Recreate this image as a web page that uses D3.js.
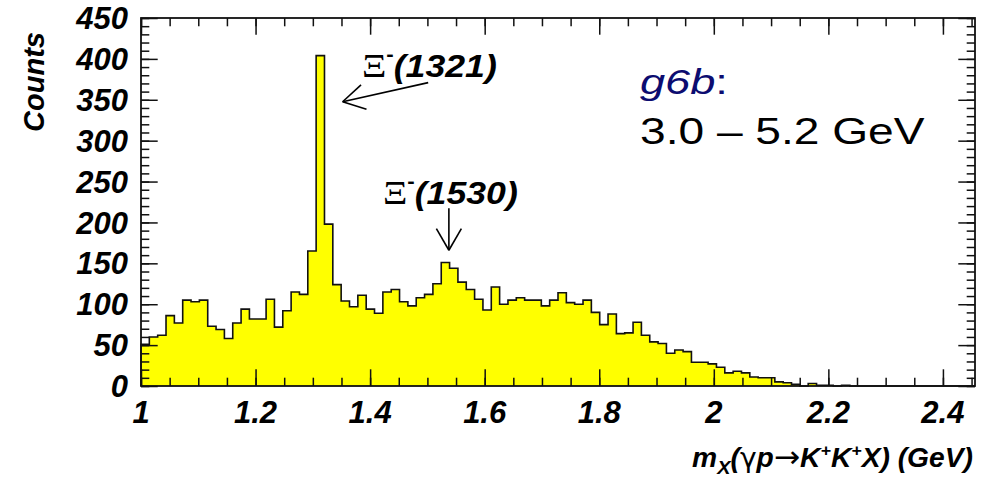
<!DOCTYPE html>
<html>
<head>
<meta charset="utf-8">
<script src="https://cdn.jsdelivr.net/npm/d3@7"></script>
<style>
  body { margin: 0; background: #fff; }
  svg { display: block; }
</style>
</head>
<body>
<svg id="chart" width="995" height="479"></svg>
<script>
// Missing-mass spectrum, 100 equal bins between binLow and binHigh (GeV)
const binLow = 1.0;
const binHigh = 2.456;
const counts = [
  51, 60, 62, 86, 77, 105, 103, 105, 73, 69,
  58, 77, 94, 82, 82, 106, 72, 92, 115, 112,
  165, 404, 198, 124, 104, 97, 111, 94, 89, 115,
  118, 103, 98, 108, 112, 125, 151, 144, 127, 118,
  106, 93, 121, 100, 105, 108, 105, 105, 98, 105,
  114, 102, 100, 105, 90, 75, 88, 64, 65, 78,
  62, 54, 52, 40, 44, 42, 29, 29, 27, 23,
  16, 18, 16, 11, 10, 10, 5, 4, 2, 0,
  3, 1, 1, 0, 1, 0, 0, 0, 0, 0,
  0, 0, 0, 0, 0, 0, 0, 0, 0, 0
];

const xTicks = [1, 1.2, 1.4, 1.6, 1.8, 2, 2.2, 2.4];
const xTickLabels = ["1", "1.2", "1.4", "1.6", "1.8", "2", "2.2", "2.4"];
const xMinorStep = 0.05;
const yTicks = [0, 50, 100, 150, 200, 250, 300, 350, 400, 450];
const yTickLabels = ["0", "50", "100", "150", "200", "250", "300", "350", "400", "450"];
const yMinorStep = 10;

// Resonance markers: label text, arrow tail / head in data units
const resonances = [
  { label: "1321", labelX: 1.3857, labelY: 378, tailX: 1.5014, tailY: 371, headX: 1.352, headY: 347.6 },
  { label: "1530", labelX: 1.4223, labelY: 223, tailX: 1.5375, tailY: 217.5, headX: 1.5375, headY: 166 }
];

const runName = "g6b";
const energyRange = "3.0 \u2013 5.2 GeV";

const W = 995, H = 479;
const frame = { left: 141, right: 975, top: 18, bottom: 386 };
const FONT = "'Liberation Sans', Arial, Helvetica, sans-serif";

const svg = d3.select("#chart");
svg.append("rect").attr("width", W).attr("height", H).attr("fill", "#fff");

const x = d3.scaleLinear().domain([binLow, binHigh]).range([frame.left, frame.right]);
const y = d3.scaleLinear().domain([0, 450]).range([frame.bottom, frame.top]);
const binWidth = (binHigh - binLow) / counts.length;

// Histogram as a filled step outline
const pts = [[x(binLow), y(0)]];
counts.forEach((c, i) => {
  const lo = binLow + i * binWidth, hi = lo + binWidth;
  pts.push([x(lo), y(c)], [x(hi), y(c)]);
});
pts.push([x(binHigh), y(0)]);
svg.append("path")
  .attr("d", d3.line()(pts))
  .attr("fill", "#ffff00")
  .attr("stroke", "#111")
  .attr("stroke-width", 1.6)
  .attr("stroke-linejoin", "miter");

// Tick generation helpers
const xMinor = d3.range(binLow, binHigh + 1e-9, xMinorStep).map(v => +v.toFixed(4)).filter(v => v <= binHigh);
const yMinor = d3.range(0, 450 + 1e-9, yMinorStep);
const MAJ = 16.7, MIN = 8.3;

function drawAxis(axisFn, scale, transform, values, size) {
  const g = svg.append("g").attr("transform", transform)
    .call(axisFn(scale).tickValues(values).tickSize(-size).tickFormat(""));
  g.select(".domain").remove();
  g.selectAll(".tick line").attr("stroke", "#111").attr("stroke-width", 1.5);
  return g;
}

// bottom / top
drawAxis(d3.axisBottom, x, `translate(0,${frame.bottom})`, xMinor, MIN);
drawAxis(d3.axisBottom, x, `translate(0,${frame.bottom})`, xTicks, MAJ);
drawAxis(d3.axisTop, x, `translate(0,${frame.top})`, xMinor, MIN);
drawAxis(d3.axisTop, x, `translate(0,${frame.top})`, xTicks, MAJ);
// left / right
drawAxis(d3.axisLeft, y, `translate(${frame.left},0)`, yMinor, MIN);
drawAxis(d3.axisLeft, y, `translate(${frame.left},0)`, yTicks, MAJ);
drawAxis(d3.axisRight, y, `translate(${frame.right},0)`, yMinor, MIN);
drawAxis(d3.axisRight, y, `translate(${frame.right},0)`, yTicks, MAJ);

// Frame
svg.append("rect")
  .attr("x", frame.left).attr("y", frame.top)
  .attr("width", frame.right - frame.left).attr("height", frame.bottom - frame.top)
  .attr("fill", "none").attr("stroke", "#111").attr("stroke-width", 1.8);

// Tick labels
svg.append("g").selectAll("text").data(xTicks).join("text")
  .attr("x", d => x(d)).attr("y", 423)
  .attr("text-anchor", "middle")
  .attr("font-family", FONT).attr("font-size", 31)
  .attr("font-weight", "bold").attr("font-style", "italic")
  .attr("fill", "#000")
  .text((d, i) => xTickLabels[i]);

svg.append("g").selectAll("text").data(yTicks).join("text")
  .attr("x", 128).attr("y", d => y(d))
  .attr("dy", "0.36em")
  .attr("text-anchor", "end")
  .attr("font-family", FONT).attr("font-size", 31)
  .attr("font-weight", "bold").attr("font-style", "italic")
  .attr("fill", "#000")
  .text((d, i) => yTickLabels[i]);

// Stretch a text element horizontally so it spans targetW, keeping anchorX fixed
function fitWidth(t, targetW, anchorX) {
  const w = t.node().getBBox().width;
  const s = targetW / w;
  t.attr("transform", `translate(${anchorX},0) scale(${s},1) translate(${-anchorX},0)`);
}

// Axis titles
svg.append("text")
  .attr("transform", "translate(44,32) rotate(-90)")
  .attr("text-anchor", "end")
  .attr("font-family", FONT).attr("font-size", 29)
  .attr("font-weight", "bold").attr("font-style", "italic")
  .text("Counts");

const SYM = "'DejaVu Sans', sans-serif";
const xt = svg.append("text")
  .attr("x", 973).attr("y", 467)
  .attr("text-anchor", "end")
  .attr("font-family", FONT).attr("font-size", 27)
  .attr("font-weight", "bold").attr("font-style", "italic");
xt.append("tspan").text("m");
xt.append("tspan").attr("font-size", 19).attr("dy", 7).text("X");
xt.append("tspan").attr("dy", -7).text("(");
xt.append("tspan").attr("font-family", SYM).attr("font-weight", "normal").attr("font-style", "normal").text("\u03b3");
xt.append("tspan").text("p");
xt.append("tspan").attr("font-family", SYM).attr("font-weight", "normal").attr("font-style", "normal")
  .attr("font-size", 30).text("\u2192");
xt.append("tspan").text("K");
xt.append("tspan").attr("font-size", 17).attr("dy", -11).text("+");
xt.append("tspan").attr("dy", 11).text("K");
xt.append("tspan").attr("font-size", 17).attr("dy", -11).text("+");
xt.append("tspan").attr("dy", 11).text("X) (GeV)");
fitWidth(xt, 281, 973);

// Resonance labels and arrows
const ARM = 25, HALF = Math.PI / 6;
resonances.forEach(r => {
  const t = svg.append("text")
    .attr("x", x(r.labelX)).attr("y", y(r.labelY))
    .attr("font-family", FONT).attr("font-size", 32).attr("fill", "#000");
  t.append("tspan").attr("font-family", "'Liberation Serif', 'DejaVu Serif', serif")
    .attr("font-size", 34).text("\u039e");
  t.append("tspan").attr("font-size", 20).attr("dy", -16).attr("font-weight", "bold").text("-");
  t.append("tspan").attr("dy", 16).attr("font-weight", "bold").attr("font-style", "italic")
    .text("(" + r.label + ")");
  fitWidth(t, 135, x(r.labelX));

  const hx = x(r.headX), hy = y(r.headY), tx = x(r.tailX), ty = y(r.tailY);
  const ang = Math.atan2(ty - hy, tx - hx);
  const g = svg.append("g").attr("stroke", "#000").attr("stroke-width", 1.6).attr("fill", "none");
  g.append("line").attr("x1", tx).attr("y1", ty).attr("x2", hx).attr("y2", hy);
  [ang - HALF, ang + HALF].forEach(a => {
    g.append("line").attr("x1", hx).attr("y1", hy)
      .attr("x2", hx + ARM * Math.cos(a)).attr("y2", hy + ARM * Math.sin(a));
  });
});

// Run / beam-energy legend
const rn = svg.append("text")
  .attr("x", 640).attr("y", 94)
  .attr("font-family", FONT).attr("font-size", 35);
rn.append("tspan").attr("font-style", "italic").attr("fill", "#0c0c70").text(runName);
rn.append("tspan").attr("fill", "#0c0c70").text(":");
fitWidth(rn, 88, 640);

const er = svg.append("text")
  .attr("x", 640).attr("y", 144)
  .attr("font-family", FONT).attr("font-size", 37).attr("fill", "#000")
  .text(energyRange);
fitWidth(er, 285, 640);
</script>
</body>
</html>
